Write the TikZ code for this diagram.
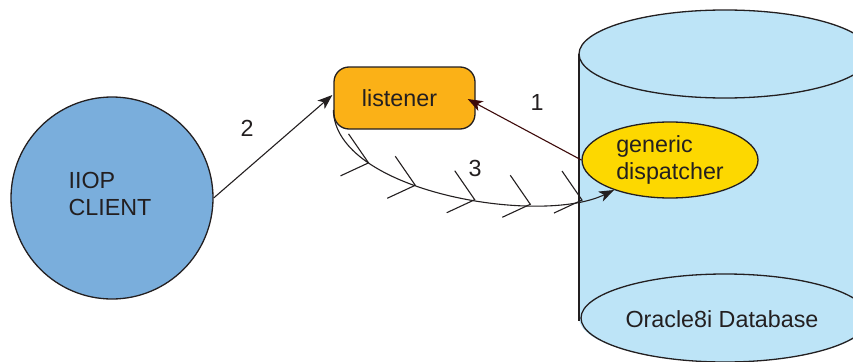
\documentclass[tikz,border=0pt]{standalone}
\usepackage{fontspec}
\setmainfont{Liberation Sans}
\usetikzlibrary{arrows.meta,calc,decorations.markings,shapes.geometric}
\definecolor{ink}{HTML}{231F20}
\definecolor{clientfill}{HTML}{7AAEDC}
\definecolor{listenfill}{HTML}{FBB117}
\definecolor{dispfill}{HTML}{FDD800}
\definecolor{dbfill}{HTML}{BDE4F7}
\definecolor{darkred}{HTML}{3D0A0A}
\tikzset{
  outline/.style={draw=ink, line width=1.3pt},
  conn/.style={draw=ink, line width=1.1pt, -{Stealth[length=15pt,width=11pt,inset=4pt]}},
  lbl/.style={text=ink, inner sep=0pt},
}
\begin{document}
\begin{tikzpicture}[x=1pt,y=-1pt, font=\fontsize{23.3}{27.5}\selectfont]
\useasboundingbox (0,0) rectangle (853,361);
\clip (0,0) rectangle (853,361);
% database cylinder
\fill[dbfill] (579,54) rectangle (871,318);
\fill[dbfill] (725,54) ellipse [x radius=146pt, y radius=44pt];
\fill[dbfill] (725,318) ellipse [x radius=146pt, y radius=44pt];
\draw[outline] (579,54) -- (579,321);
\draw[outline] (725,54) ellipse [x radius=146pt, y radius=44pt];
\draw[outline] (725,318) ellipse [x radius=144pt, y radius=44pt];
\node[lbl] (dblabel) at (722,319) {Oracle8i Database};
% client
\node[outline, circle, fill=clientfill, minimum size=202pt, inner sep=0pt] (client) at (112,198) {};
\node[lbl, align=left] (clientlabel) at (110,194) {IIOP\\CLIENT};
% listener
\node[outline, rectangle, rounded corners=15pt, fill=listenfill, minimum width=141pt, minimum height=62pt, text=ink] (listener) at (404.5,98) {\hspace*{-10pt}listener};
% dispatcher
\node[outline, ellipse, fill=dispfill, minimum width=176pt, minimum height=76pt, inner sep=0pt, text=ink, align=left] (disp) at (670,160) {generic\\dispatcher};
% connector 1
\draw[conn, draw=darkred] (disp.west) -- ($(listener.east)+(-8,1)$);
\node[lbl] (n1) at (537,102) {1};
% connector 2
\draw[conn] (client.east) -- ($(listener.west)+(-1,-3)$);
\node[lbl] (n2) at (247,128) {2};
% connector 3
\draw[conn, decoration={markings,
    mark=at position 0.206 with {\coordinate (c1);},
    mark=at position 0.368 with {\coordinate (c2);},
    mark=at position 0.559 with {\coordinate (c3);},
    mark=at position 0.733 with {\coordinate (c4);},
    mark=at position 0.895 with {\coordinate (c5);}},
  postaction=decorate]
  ($(listener.west)+(0,12)$) .. controls (335,192) and (540,226) .. ($(disp.center)+(-56,30)$);
\foreach \i in {1,...,5}
  \draw[ink, line width=1.1pt] ([shift={(-20,-29)}]c\i) -- (c\i) -- ([shift={(-28,13)}]c\i);
\node[lbl] (n3) at (475,168) {3};
\end{tikzpicture}
\end{document}
